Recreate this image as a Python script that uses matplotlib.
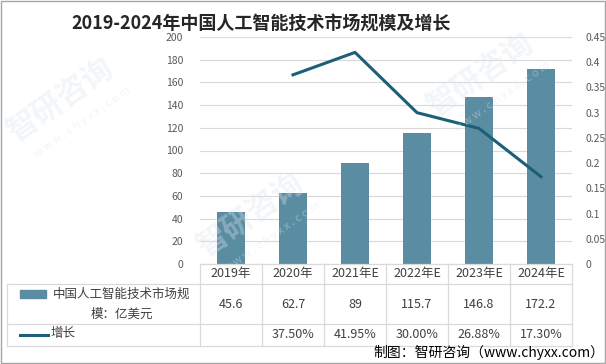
import matplotlib
matplotlib.use("Agg")
import matplotlib.pyplot as plt
from matplotlib.lines import Line2D
from matplotlib.patches import Rectangle
from matplotlib.transforms import blended_transform_factory

plt.rcParams['font.family'] = ['Noto Sans CJK SC', 'DejaVu Sans']

# data
years = ["2019年", "2020年", "2021年E", "2022年E", "2023年E", "2024年E"]
market = [45.6, 62.7, 89, 115.7, 146.8, 172.2]
market_txt = ["45.6", "62.7", "89", "115.7", "146.8", "172.2"]
growth = [None, 0.375, 0.4195, 0.30, 0.2688, 0.173]
growth_txt = ["", "37.50%", "41.95%", "30.00%", "26.88%", "17.30%"]
left_ticks = list(range(0, 201, 20))
right_ticks = [0, 0.05, 0.1, 0.15, 0.2, 0.25, 0.3, 0.35, 0.4, 0.45]

bar_color = "#5B8DA2"
line_color = "#1C5F78"
grid_color = "#D9D9D9"
text_color = "#404040"

W, H = 606, 364
fig = plt.figure(figsize=(W / 100, H / 100), dpi=100)

def fx(px):
    return px / W

def fy(py):
    return 1 - py / H

ax_l, ax_r, ax_t, ax_b = 200, 572, 37, 264
ax = fig.add_axes([fx(ax_l), fy(ax_b), fx(ax_r - ax_l), (ax_b - ax_t) / H])
x = list(range(len(years)))
ax.bar(x, market, width=0.45, color=bar_color, zorder=3)
ax.set_xlim(-0.5, len(years) - 0.5)
ax.set_ylim(0, 200)
ax.set_yticks(left_ticks)
ax.set_yticklabels([str(v) for v in left_ticks])
ax.yaxis.grid(True, color=grid_color, linewidth=0.8)
ax.set_axisbelow(True)
ax.set_xticks([])
for s in ax.spines.values():
    s.set_visible(False)
ax.tick_params(axis='y', length=0, pad=12, labelsize=7.5, labelcolor="#595959")

ax2 = ax.twinx()
gx = [i for i, g in zip(x, growth) if g is not None]
gy = [g for g in growth if g is not None]
ax2.plot(gx, gy, color=line_color, linewidth=2.2, zorder=4)
ax2.set_ylim(0, 0.45)
ax2.set_yticks(right_ticks)
ax2.set_yticklabels([f"{v:g}" for v in right_ticks])
for s in ax2.spines.values():
    s.set_visible(False)
ax2.tick_params(axis='y', length=0, pad=10, labelsize=7.5, labelcolor="#595959")

# data table under the plot
tr = blended_transform_factory(ax.transData, fig.transFigure)
row_y = [264, 284, 324, 346]
fs = 9

fig.add_artist(Line2D([-0.5, 5.5], [fy(row_y[0]), fy(row_y[0])], color=grid_color, lw=0.9, transform=tr))
for py in row_y[1:]:
    fig.add_artist(Line2D([fx(7), fx(ax_r)], [fy(py), fy(py)], color=grid_color, lw=0.9,
                          transform=fig.transFigure))
fig.add_artist(Line2D([fx(7), fx(7)], [fy(row_y[1]), fy(row_y[3])], color=grid_color, lw=0.9,
                      transform=fig.transFigure))
for i in range(len(years) + 1):
    fig.add_artist(Line2D([i - 0.5, i - 0.5], [fy(row_y[0]), fy(row_y[3])], color=grid_color,
                          lw=0.9, transform=tr))

for i in x:
    fig.text(i, fy(274), years[i], transform=tr, ha='center', va='center', fontsize=fs, color=text_color)
    fig.text(i, fy(304), market_txt[i], transform=tr, ha='center', va='center', fontsize=fs, color=text_color)
    fig.text(i, fy(335), growth_txt[i], transform=tr, ha='center', va='center', fontsize=fs, color=text_color)

# legend keys inside the table
fig.add_artist(Rectangle((fx(20), fy(298)), fx(26), 8 / H, color=bar_color, transform=fig.transFigure))
fig.text(fx(122), fy(294), "中国人工智能技术市场规", ha='center', va='center', fontsize=fs, color=text_color)
fig.text(fx(122), fy(314), "模：亿美元", ha='center', va='center', fontsize=fs, color=text_color)
fig.add_artist(Line2D([fx(20), fx(48)], [fy(335), fy(335)], color=line_color, lw=2.2,
                      transform=fig.transFigure))
fig.text(fx(51), fy(334), "增长", ha='left', va='center', fontsize=fs, color=text_color)

# title and source
fig.text(fx(261), fy(24), "2019-2024年中国人工智能技术市场规模及增长", ha='center', va='center',
         fontsize=13, fontweight='bold', color="#262626")
fig.text(fx(604), fy(352), "制图：智研咨询（www.chyxx.com）", ha='right', va='center',
         fontsize=10, color="black")

# faint watermarks
for wx, wy in [(60, 100), (250, 215), (480, 75)]:
    fig.text(fx(wx), fy(wy), "智研咨询", rotation=35, fontsize=22, fontweight='bold',
             color="#DCE5EE", alpha=0.35, ha='center', va='center', zorder=0)
    fig.text(fx(wx + 22), fy(wy + 22), "w w w . c h y x x . c o m", rotation=35, fontsize=8,
             color="#DCE5EE", alpha=0.4, ha='center', va='center', zorder=0)

fig.add_artist(Rectangle((0.001, 0.002), 0.997, 0.995, fill=False, edgecolor="#A6A6A6", lw=1,
                         transform=fig.transFigure))

fig.savefig("out.png", dpi=100)
